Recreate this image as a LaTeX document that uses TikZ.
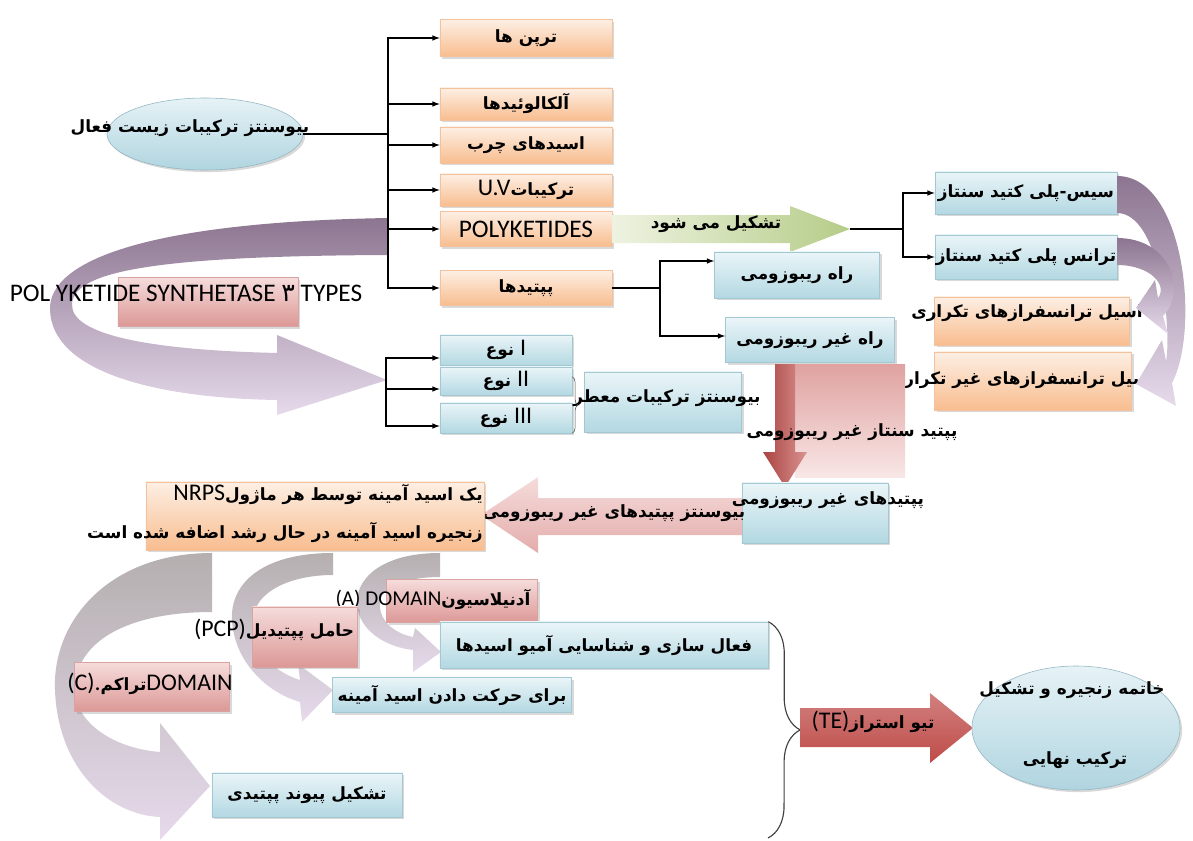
\documentclass[tikz,border=0pt]{standalone}
\usepackage{fontspec}
\setmainfont{Carlito}
\newfontfamily\farsi[Script=Arabic]{DejaVu Sans}
\usepackage{tikz}
\usepackage{xcolor}
\usetikzlibrary{positioning,shapes,shadows,arrows,decorations.pathreplacing}
\TeXXeTstate=1
\newcommand{\fs}{\fontsize{12}{14}\selectfont}
\newcommand{\fa}[1]{{\farsi\bfseries\beginR #1\endR}}
\newcommand{\la}[1]{{\normalfont\fontsize{17}{19}\selectfont\beginL #1\endL}}
\definecolor{orgtop}{HTML}{FDEFE4}
\definecolor{orgbot}{HTML}{F8BD8F}
\definecolor{orgline}{HTML}{F3C19B}
\definecolor{blutop}{HTML}{EAF5F8}
\definecolor{blubot}{HTML}{B3D8E2}
\definecolor{bluline}{HTML}{A3C8D2}
\definecolor{pnktop}{HTML}{F5DCDB}
\definecolor{pnkbot}{HTML}{DC9896}
\definecolor{pnkline}{HTML}{D9A3A1}
\definecolor{ovtop}{HTML}{E6F2F6}
\definecolor{ovbot}{HTML}{B0D5E0}
\definecolor{ovline}{HTML}{93B5C2}
\definecolor{purd}{HTML}{8C7590}
\definecolor{purm}{HTML}{B7A3BD}
\definecolor{purl}{HTML}{E6DAEB}
\definecolor{greyc}{HTML}{B5AFB0}
\definecolor{grnl}{HTML}{EEF3E1}
\definecolor{grnr}{HTML}{B5CC88}
\definecolor{redd}{HTML}{BE4B48}
\definecolor{redl}{HTML}{E9B9B7}

\begin{document}
\begin{tikzpicture}[x=0.025cm, y=0.025cm,
  soft/.style={drop shadow={shadow xshift=1.5pt,shadow yshift=-1.5pt,opacity=.3}},
  obox/.style={rectangle,draw=orgline,top color=orgtop,bottom color=orgbot,soft},
  bbox/.style={rectangle,draw=bluline,top color=blutop,bottom color=blubot,soft},
  pbox/.style={rectangle,draw=pnkline,top color=pnktop,bottom color=pnkbot,soft},
  oval/.style={ellipse,draw=ovline,top color=ovtop,bottom color=ovbot,soft},
  lat/.style={font=\fontsize{18}{20}\selectfont}]
\tikzstyle{every node}+=[inner sep=0pt,font=\fs]
\useasboundingbox (0,0) rectangle (1193,-841);
% big purple arrow to the three types
\path [top color=purd, middle color=purm, bottom color=purl] (388,-218) .. controls (150,-222) and (48,-260) .. (50,-310)
  .. controls (52,-370) and (150,-398) .. (277,-400) -- (277,-415) -- (387,-380) -- (277,-335) -- (277,-353)
  .. controls (150,-350) and (72,-335) .. (72,-305) .. controls (72,-272) and (150,-256) .. (388,-255) -- cycle;
\node [pbox, minimum width=4.5cm, minimum height=1.225cm] (pksbox) at (208,-302) {};
\node [lat] (pkstxt) at (186,-293) {POL YKETIDE SYNTHETASE {\farsi ۳} TYPES};
% root
\node [oval, minimum width=4.9cm, minimum height=1.8cm] (bio) at (205,-134) {};
\node (biotxt) at (190,-128) {\fa{بیوسنتز ترکیبات زیست فعال}};
\node [obox, minimum width=4.3cm, minimum height=0.925cm] (terp) at (526,-38) {\fa{ترپن ها}};
\node [obox, minimum width=4.3cm, minimum height=0.8cm] (alk) at (526,-104) {\fa{آلکالوئیدها}};
\node [obox, minimum width=4.3cm, minimum height=0.9cm] (fat) at (526,-145) {\fa{اسیدهای چرب}};
\node [obox, minimum width=4.3cm, minimum height=0.8cm] (uv) at (526,-190) {\fa{ترکیبات\la{U.V}}};
\node [obox, minimum width=4.3cm, minimum height=0.875cm, lat] (poly) at (526,-229) {POLYKETIDES};
\node [obox, minimum width=4.3cm, minimum height=0.875cm] (pep) at (526,-288) {\fa{پپتیدها}};
\coordinate (bus1) at (388,-134);
\draw [black, line width=0.8pt] (bio.east) -- (bus1);
\foreach \b in {terp,alk,fat,uv,poly,pep}
  \draw [black, line width=0.8pt, -latex] (bus1) |- (\b.west);
% polyketides
\path [left color=grnl, right color=grnr] (612,-215) -- (790,-215) -- (790,-206) -- (850,-229) -- (790,-252) -- (790,-243) -- (612,-243) -- cycle;
\node (form) at (716,-224) {\fa{تشکیل می شود}};
\node [bbox, minimum width=4.55cm, minimum height=1.05cm] (cis) at (1026,-193) {\fa{سیس-پلی کتید سنتاز}};
\node [bbox, minimum width=4.55cm, minimum height=1.1cm] (trans) at (1026,-257) {\fa{ترانس پلی کتید سنتاز}};
\coordinate (formtip) at (850,-229);
\coordinate (bus2) at (903,-229);
\draw [black, line width=0.8pt] (formtip) -- (bus2);
\draw [black, line width=0.8pt, -latex] (bus2) |- (cis.west);
\draw [black, line width=0.8pt, -latex] (bus2) |- (trans.west);
\node [obox, minimum width=4.875cm, minimum height=1.2cm] (acyl1) at (1032,-321) {};
\node (acyl1txt) at (1027,-313) {\fa{اسیل ترانسفرازهای تکراری}};
\node [obox, minimum width=4.925cm, minimum height=1.45cm] (acyl2) at (1033,-381) {};
\node (acyl2txt) at (1022,-380) {\fa{اسیل ترانسفرازهای غیر تکراری}};
\path [top color=purd, bottom color=purl] (1117,-176) .. controls (1185,-176) and (1200,-330) .. (1172,-383)
  -- (1176,-406) -- (1136,-384) -- (1162,-340) -- (1166,-361) .. controls (1172,-330) and (1160,-213) .. (1117,-213) -- cycle;
\path [top color=purd, bottom color=purl] (1117,-238) .. controls (1170,-238) and (1188,-290) .. (1163,-316)
  -- (1168,-334) -- (1136,-308) -- (1155,-280) -- (1158,-298) .. controls (1168,-285) and (1150,-265) .. (1117,-265) -- cycle;
% peptides
\node [bbox, minimum width=4.125cm, minimum height=1.15cm] (rib) at (797,-275) {\fa{راه ریبوزومی}};
\node [bbox, minimum width=4.225cm, minimum height=1.125cm] (nonrib) at (810,-340) {\fa{راه غیر ریبوزومی}};
\coordinate (bus3) at (660,-288);
\draw [black, line width=0.8pt] (pep.east) -- (bus3);
\draw [black, line width=0.8pt, -latex] (bus3) |- ([yshift=0.35cm]rib.west);
\draw [black, line width=0.8pt, -latex] (bus3) |- ([yshift=0.1cm]nonrib.west);
% three types
\node [bbox, minimum width=3.3cm, minimum height=0.75cm] (t1) at (506,-350) {\fa{\la{I} نوع}};
\node [bbox, minimum width=3.3cm, minimum height=0.7cm] (t2) at (506,-381) {\fa{\la{II} نوع}};
\node [bbox, minimum width=3.3cm, minimum height=0.75cm] (t3) at (506,-418) {\fa{\la{III} نوع}};
\coordinate (bus4) at (386,-380);
\foreach \t in {t1,t2,t3}
  \draw [black, line width=0.8pt, -latex] (bus4) |- ([yshift=-0.2cm]\t.west);
\node [bbox, minimum width=3.925cm, minimum height=1.5cm] (arom) at (663,-402) {};
\node (aromtxt) at (667,-398) {\fa{بیوسنتز ترکیبات معطر}};
\draw [black!70, decorate, decoration={brace, amplitude=4pt}] ([yshift=-0.25cm]t2.north east) -- (t3.south east);
% non ribosomal
\node [rectangle, top color=pnkbot!90, bottom color=pnktop!70, minimum width=2.75cm, minimum height=2.8cm] (nrsyn) at (850,-421) {};
\path [left color=redd!90!black, middle color=redd, right color=redd!60] (775,-364) -- (795,-364) -- (795,-452) -- (807,-452) -- (785,-487) -- (763,-452) -- (775,-452) -- cycle;
\node (nrsyntxt) at (852,-432) {\fa{پپتید سنتاز غیر ریبوزومی}};
\node [bbox, minimum width=3.65cm, minimum height=1.5cm] (nrpep) at (815,-513) {};
\path [top color=pnktop, bottom color=pnkbot!80] (742,-498) -- (538,-498) -- (538,-477) -- (481,-515) -- (538,-553) -- (538,-535) -- (742,-535) -- cycle;
\node (nrpeptxt) at (828,-500) {\fa{پپتیدهای غیر ریبوزومی}};
\node (biosyn) at (614,-513) {\fa{بیوسنتز پپتیدهای غیر ریبوزومی}};
\node [obox, minimum width=8.45cm, minimum height=1.7cm] (nrps) at (315,-516) {};
\node [anchor=east] (nrps1) at (483,-494) {\fa{یک اسید آمینه توسط هر ماژول\la{NRPS}}};
\node [anchor=east] (nrps2) at (483,-532) {\fa{زنجیره اسید آمینه در حال رشد اضافه شده است}};
% domains
\path [top color=greyc, bottom color=purl] (212,-553) .. controls (110,-553) and (52,-620) .. (55,-690)
  .. controls (58,-770) and (110,-815) .. (160,-817) -- (160,-840) -- (210,-786) -- (160,-723) -- (160,-752)
  .. controls (110,-748) and (75,-720) .. (75,-690) .. controls (75,-640) and (130,-612) .. (212,-612) -- cycle;
\path [top color=greyc, bottom color=purl] (333,-553) .. controls (260,-553) and (230,-585) .. (232,-620)
  .. controls (234,-660) and (265,-692) .. (300,-702) -- (302,-722) -- (333,-690) -- (298,-664) -- (300,-680)
  .. controls (268,-670) and (252,-645) .. (253,-620) .. controls (254,-592) and (290,-575) .. (333,-575) -- cycle;
\path [top color=greyc, bottom color=purl] (440,-553) .. controls (380,-553) and (355,-580) .. (357,-605)
  .. controls (359,-630) and (385,-647) .. (413,-650) -- (413,-672) -- (441,-652) -- (415,-628) -- (413,-637)
  .. controls (392,-633) and (378,-618) .. (380,-602) .. controls (382,-585) and (410,-577) .. (440,-577) -- cycle;
\node [pbox, minimum width=3.775cm, minimum height=1.075cm] (adbox) at (462,-601) {};
\node (adtxt) at (433,-599) {\fa{آدنیلاسیون{\normalfont\fontsize{15}{17}\selectfont\beginL(A) DOMAIN\endL}}};
\node [bbox, minimum width=8.2cm, minimum height=1.15cm] (act) at (604,-645) {\fa{فعال سازی و شناسایی آمیو اسیدها}};
\node [pbox, minimum width=2.625cm, minimum height=1.5cm] (pcpbox) at (305,-637) {};
\node (pcptxt) at (274,-630) {\fa{حامل پپتیدیل\la{(PCP)}}};
\node [bbox, minimum width=5.975cm, minimum height=0.875cm] (trn) at (452,-695) {\fa{برای حرکت دادن اسید آمینه}};
\node [pbox, minimum width=3.875cm, minimum height=1.225cm] (cbox) at (152,-687) {};
\node (ctxt) at (150,-684) {\fa{\la{DOMAIN}تراکم\la{(C).}}};
\node [bbox, minimum width=4.75cm, minimum height=1.1cm] (bond) at (307,-795) {\fa{تشکیل پیوند پپتیدی}};
% thioesterase
\coordinate (brbot) at (768,-838);
\draw [black!75, line width=0.8pt, decorate, decoration={brace, amplitude=0.8cm}] (act.north east) -- (brbot);
\path [top color=redd!70, bottom color=redd] (800,-708) -- (930,-708) -- (930,-693) -- (973,-728) -- (930,-763) -- (930,-747) -- (800,-747) -- cycle;
\node (te) at (873,-722) {\fa{تیو استراز\la{(TE)}}};
\node [oval, minimum width=5.2cm, minimum height=3.1cm] (fin) at (1076,-728) {};
\node (fin1) at (1072,-690) {\fa{خاتمه زنجیره و تشکیل}};
\node (fin2) at (1075,-760) {\fa{ترکیب نهایی}};
\end{tikzpicture}
\end{document}
